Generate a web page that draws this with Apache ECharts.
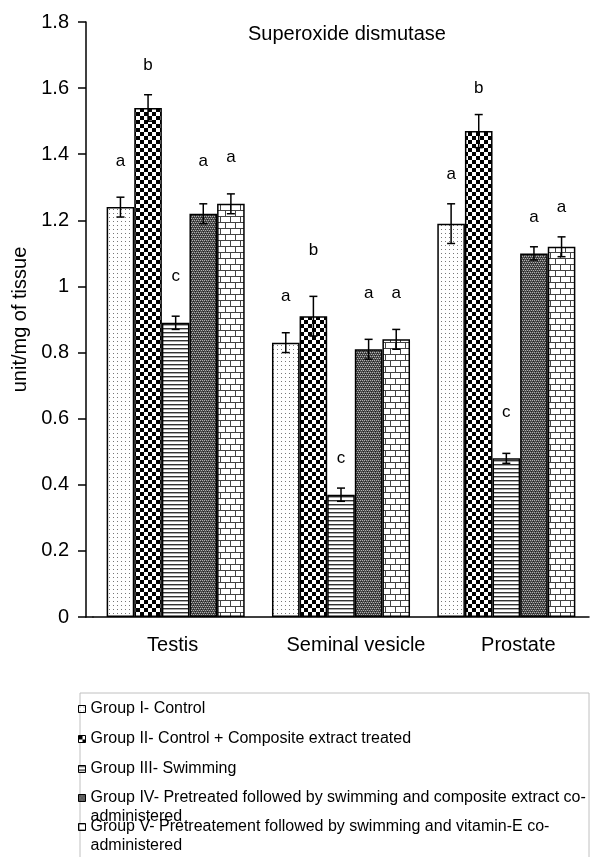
<!DOCTYPE html>
<html><head><meta charset="utf-8">
<script src="https://cdn.jsdelivr.net/npm/echarts@6/dist/echarts.min.js"></script>
<style>html,body{margin:0;padding:0;background:#fff}#c{width:590px;height:857px}</style>
</head><body><div id="c"></div>
<script>
// ---- data ----
const categories = ['Testis', 'Seminal vesicle', 'Prostate'];
const groupNames = [
  'Group I- Control',
  'Group II- Control + Composite extract treated',
  'Group III- Swimming',
  'Group IV- Pretreated followed by swimming and composite extract co-administered',
  'Group V- Pretreatement followed by swimming and vitamin-E co-administered'
];
const group1 = [1.24, 0.83, 1.19];
const group2 = [1.54, 0.91, 1.47];
const group3 = [0.89, 0.37, 0.48];
const group4 = [1.22, 0.81, 1.10];
const group5 = [1.25, 0.84, 1.12];
const err1 = [0.03, 0.03, 0.06];
const err2 = [0.04, 0.06, 0.05];
const err3 = [0.02, 0.02, 0.015];
const err4 = [0.03, 0.03, 0.02];
const err5 = [0.03, 0.03, 0.03];
const letters1 = ['a', 'a', 'a'];
const letters2 = ['b', 'b', 'b'];
const letters3 = ['c', 'c', 'c'];
const letters4 = ['a', 'a', 'a'];
const letters5 = ['a', 'a', 'a'];
// level (in unit/mg) at which each significance letter is written
const letterLevel1 = [1.38, 0.97, 1.34];
const letterLevel2 = [1.67, 1.11, 1.60];
const letterLevel3 = [1.03, 0.48, 0.62];
const letterLevel4 = [1.38, 0.98, 1.21];
const letterLevel5 = [1.39, 0.98, 1.24];
const yMin = 0, yMax = 1.8, yStep = 0.2;
const titleText = 'Superoxide dismutase';
const yName = 'unit/mg of tissue';

const means = [group1, group2, group3, group4, group5];
const errs = [err1, err2, err3, err4, err5];
const letters = [letters1, letters2, letters3, letters4, letters5];
const levels = [letterLevel1, letterLevel2, letterLevel3, letterLevel4, letterLevel5];

// ---- patterns ----
function tile(w, h, draw) {
  const c = document.createElement('canvas'); c.width = w; c.height = h;
  const x = c.getContext('2d'); draw(x); return c;
}
const pDots = tile(4, 4, x => { x.fillStyle = '#fff'; x.fillRect(0,0,4,4); x.fillStyle = '#777'; x.fillRect(1,1,1,1); });
const pCheck = tile(8, 8, x => { x.fillStyle = '#fff'; x.fillRect(0,0,8,8); x.fillStyle = '#000'; x.fillRect(0,0,4,4); x.fillRect(4,4,4,4); });
const pHoriz = tile(4, 4, x => { x.fillStyle = '#fff'; x.fillRect(0,0,4,4); x.fillStyle = '#333'; x.fillRect(0,0,4,1); x.fillStyle = '#aaa'; x.fillRect(0,1,4,1); });
const pWeave = tile(4, 4, x => {
  x.fillStyle = '#4a4a4a'; x.fillRect(0,0,4,4);
  x.fillStyle = '#b0b0b0'; x.fillRect(0,0,1,1); x.fillRect(2,0,1,1); x.fillRect(1,2,1,1); x.fillRect(3,2,1,1);
  x.fillStyle = '#222'; x.fillRect(1,1,1,1); x.fillRect(3,3,1,1);
});
const pBrick = tile(10, 12, x => {
  x.fillStyle = '#fff'; x.fillRect(0,0,10,12);
  x.fillStyle = '#444';
  x.fillRect(0,0,10,1); x.fillRect(0,6,10,1);
  x.fillRect(0,0,1,6); x.fillRect(5,6,1,6);
});
const patterns = [pDots, pCheck, pHoriz, pWeave, pBrick];

const FONT = '"Liberation Sans", Arial, Helvetica, sans-serif';
const gapPct = 0.165;

const barSeries = means.map((vals, g) => ({
  name: groupNames[g],
  type: 'bar',
  data: vals,
  barGap: '0%',
  barCategoryGap: (gapPct * 100) + '%',
  itemStyle: { color: { image: patterns[g], repeat: 'repeat' }, borderColor: '#000', borderWidth: 1.5 },
  emphasis: { disabled: true },
  z: 2
}));

const errData = [];
for (let g = 0; g < 5; g++) for (let c = 0; c < 3; c++) errData.push([c, g, means[g][c], errs[g][c], levels[g][c]]);

function renderErr(params, api) {
  const c = api.value(0), g = api.value(1), m = api.value(2), e = api.value(3), lv = api.value(4);
  const center = api.coord([c, m]);
  const band = api.size([1, 0])[0];
  const bw = band * (1 - gapPct) / 5;
  const x = center[0] + (g - 2) * bw;
  const top = api.coord([c, m + e])[1];
  const bot = api.coord([c, m - e])[1];
  const ly = api.coord([c, lv])[1];
  const cap = 4;
  const st = { stroke: '#000', lineWidth: 1.5 };
  return { type: 'group', children: [
    { type: 'line', shape: { x1: x, y1: top, x2: x, y2: bot }, style: st },
    { type: 'line', shape: { x1: x - cap, y1: top, x2: x + cap, y2: top }, style: st },
    { type: 'line', shape: { x1: x - cap, y1: bot, x2: x + cap, y2: bot }, style: st },
    { type: 'text', style: { text: letters[g][c], x: x, y: ly, align: 'center', verticalAlign: 'middle', font: '17px ' + FONT, fill: '#000' } }
  ]};
}

// two-line entries: an empty first line keeps the icon level with the first text line
function legendFor(i, top, twoLine) {
  return {
    data: [groupNames[i]],
    orient: 'vertical', left: 78, top: top, padding: 0,
    icon: 'rect', itemWidth: 7, itemHeight: 7,
    itemStyle: { borderColor: '#000', borderWidth: 1 },
    selectedMode: false,
    formatter: n => twoLine ? '\u00a0\n' + n.replace('co-administered', 'co-\nadministered') : n,
    textStyle: { fontFamily: FONT, fontSize: 16, color: '#000', lineHeight: 19 }
  };
}

const labelStyle = { fontFamily: FONT, fontSize: 20, color: '#000' };

const chart = echarts.init(document.getElementById('c'), null, { renderer: 'canvas' });
chart.setOption({
  animation: false,
  backgroundColor: '#fff',
  title: { text: titleText, left: 248, top: 24, padding: 0, textStyle: { fontFamily: FONT, fontSize: 20, fontWeight: 'normal', color: '#000' } },
  grid: { left: 93, right: 1, top: 22, bottom: 240 },
  legend: [
    legendFor(0, 699.5, false),
    legendFor(1, 729.5, false),
    legendFor(2, 759.5, false),
    legendFor(3, 769.5, true),
    legendFor(4, 798.5, true)
  ],
  xAxis: {
    type: 'category', data: categories,
    axisLine: { lineStyle: { color: '#000', width: 1.5 } },
    axisTick: { show: false },
    axisLabel: {
      fontFamily: FONT, fontSize: 20, color: '#000', margin: 18, interval: 0,
      formatter: (v, i) => '{c' + i + '|' + v + '}',
      rich: {
        c0: Object.assign({ padding: [0, 6, 0, 0] }, labelStyle),
        c1: Object.assign({ padding: [0, 0, 0, 30] }, labelStyle),
        c2: Object.assign({ padding: [0, 0, 0, 24] }, labelStyle)
      }
    },
    splitLine: { show: false }
  },
  yAxis: {
    type: 'value', min: yMin, max: yMax, interval: yStep, offset: 7,
    name: yName, nameLocation: 'middle', nameGap: 46,
    nameTextStyle: { fontFamily: FONT, fontSize: 20, color: '#000' },
    axisLine: { show: true, lineStyle: { color: '#000', width: 1.5 } },
    axisTick: { show: true, length: 8, lineStyle: { color: '#000', width: 1.5 } },
    axisLabel: { fontFamily: FONT, fontSize: 20, color: '#000', margin: 17 },
    splitLine: { show: false }
  },
  series: barSeries.concat([{
    type: 'custom', name: 'err', renderItem: renderErr, data: errData,
    encode: { x: 0, y: 2 }, z: 5, silent: true
  }])
});
// frame of the legend and the short piece of the x axis left of the plot
const y0 = chart.convertToPixel({ yAxisIndex: 0 }, 0);
chart.setOption({ graphic: [
  { type: 'rect', shape: { x: 80, y: 693, width: 509, height: 200 }, style: { fill: 'none', stroke: '#c0c0c0', lineWidth: 1 }, z: -1, silent: true },
  { type: 'line', shape: { x1: 85.5, y1: y0, x2: 93.5, y2: y0 }, style: { stroke: '#000', lineWidth: 1.5 }, silent: true }
]});
</script></body></html>
